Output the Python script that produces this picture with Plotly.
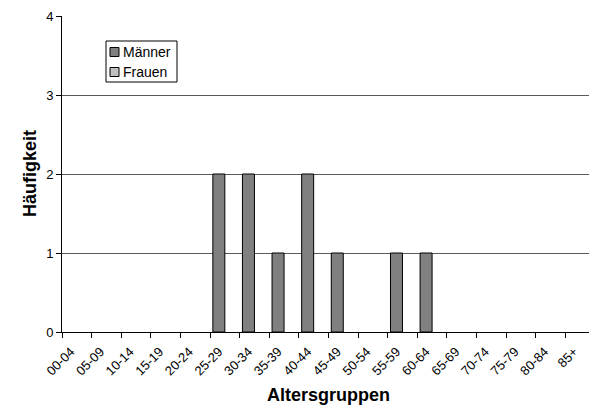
import plotly.graph_objects as go

categories = ["00-04", "05-09", "10-14", "15-19", "20-24", "25-29", "30-34", "35-39",
              "40-44", "45-49", "50-54", "55-59", "60-64", "65-69", "70-74", "75-79",
              "80-84", "85+"]
maenner = [0, 0, 0, 0, 0, 2, 2, 1, 2, 1, 0, 1, 1, 0, 0, 0, 0, 0]
frauen = [0, 0, 0, 0, 0, 0, 0, 0, 0, 0, 0, 0, 0, 0, 0, 0, 0, 0]
series_names = ["Männer", "Frauen"]
series_colors = ["#808080", "#C0C0C0"]
x_title = "Altersgruppen"
y_title = "Häufigkeit"

W, H = 589, 407
L, R, T, B = 62, 0, 16, 75
pw, ph = W - L - R, H - T - B

def px(x):
    return (x - L) / pw

def py(y):
    return (H - B - y) / ph

fig = go.Figure()
for name, vals, col in zip(series_names, [maenner, frauen], series_colors):
    fig.add_trace(go.Bar(
        x=categories, y=vals, name=name, showlegend=False,
        marker=dict(color=col,
                    line=dict(color="black", width=[1 if v else 0 for v in vals]))))

font = "Liberation Sans, Arial, sans-serif"
fig.update_layout(
    width=W, height=H,
    margin=dict(l=L, r=R, t=T, b=B, autoexpand=False),
    paper_bgcolor="white", plot_bgcolor="white",
    barmode="group", bargap=0.19, bargroupgap=0,
    font=dict(family=font, size=13, color="black"),
    xaxis=dict(type="category", range=[-0.5, 17.3], tickson="boundaries",
               ticks="outside", ticklen=5, tickcolor="black",
               showline=True, linecolor="black", linewidth=1,
               showgrid=False, tickangle=-45, tickfont=dict(size=13),
               ticklabelstandoff=6, ticklabelshift=-6,
               automargin=False),
    yaxis=dict(range=[0, 4], dtick=1, ticks="outside", ticklen=5, tickcolor="black",
               showline=True, linecolor="black", linewidth=1,
               showgrid=True, gridcolor="#5a5a5a", gridwidth=1,
               zeroline=False, tickfont=dict(size=13), automargin=False),
)

# axis titles
fig.add_annotation(text=f"<b>{x_title}</b>", xref="paper", yref="paper",
                   x=px(328), y=py(395), showarrow=False,
                   font=dict(size=18, family=font), xanchor="center", yanchor="middle")
fig.add_annotation(text=f"<b>{y_title}</b>", xref="paper", yref="paper",
                   x=px(30), y=py(174), showarrow=False, textangle=-90,
                   font=dict(size=18, family=font), xanchor="center", yanchor="middle")

# legend box
fig.add_shape(type="rect", xref="paper", yref="paper",
              x0=px(106), x1=px(177), y0=py(41), y1=py(82),
              line=dict(color="black", width=1), fillcolor="white", layer="above")
for i, (name, col) in enumerate(zip(series_names, series_colors)):
    cy = 52 + 20 * i
    fig.add_shape(type="rect", xref="paper", yref="paper",
                  x0=px(110), x1=px(119), y0=py(cy - 4.5), y1=py(cy + 4.5),
                  line=dict(color="black", width=1), fillcolor=col, layer="above")
    fig.add_annotation(text=name, xref="paper", yref="paper",
                       x=px(121), y=py(cy), showarrow=False,
                       xanchor="left", yanchor="middle",
                       font=dict(size=14, family=font))

fig.write_html("out.html", config={"displayModeBar": False},
               post_script="document.body.style.margin='0';")
